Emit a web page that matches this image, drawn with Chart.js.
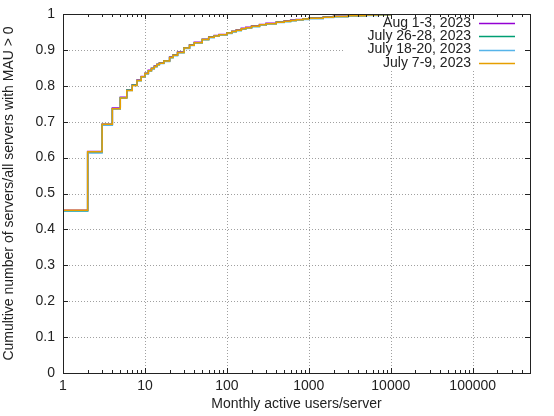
<!DOCTYPE html>
<html lang="en">
<head>
<meta charset="UTF-8">
<title>Monthly active users CDF</title>
<script src="https://cdn.jsdelivr.net/npm/chart.js"></script>
<style>
  html, body { margin: 0; padding: 0; background: #fff; }
  #wrap { width: 554px; height: 416px; }
</style>
</head>
<body>
<div id="wrap"><canvas id="cdf" width="554" height="416"></canvas></div>
<script>
// x values (monthly active users/server) shared by all series
const users = [1, 2, 3, 4, 5, 6, 7, 8, 9, 10, 11, 12, 13, 14, 15, 17, 20, 22, 25, 30,
  35, 40, 50, 60, 70, 80, 100, 115, 130, 150, 170, 200, 250, 300, 400, 500, 600, 700,
  850, 1000, 1500, 2000, 3000, 5000, 7000, 10000, 13000];

const labels = ['Aug 1-3, 2023', 'July 26-28, 2023', 'July 18-20, 2023', 'July 7-9, 2023'];
const colors = ['#9400d3', '#009e73', '#56b4e9', '#e69f00'];

const aug1 = [0.453, 0.617, 0.693, 0.738, 0.768, 0.789, 0.803, 0.816, 0.826, 0.835,
  0.843, 0.849, 0.855, 0.860, 0.864, 0.870, 0.880, 0.886, 0.894, 0.906, 0.914, 0.921,
  0.930, 0.936, 0.940, 0.943, 0.948, 0.952, 0.956, 0.960, 0.963, 0.967, 0.971, 0.974,
  0.978, 0.981, 0.983, 0.985, 0.987, 0.989, 0.992, 0.994, 0.996, 0.998, 1.0];
const jul26 = [0.451, 0.615, 0.692, 0.736, 0.767, 0.788, 0.802, 0.815, 0.825, 0.834,
  0.842, 0.848, 0.854, 0.859, 0.863, 0.869, 0.879, 0.885, 0.893, 0.905, 0.913, 0.920,
  0.929, 0.935, 0.939, 0.942, 0.947, 0.951, 0.954, 0.958, 0.962, 0.965, 0.969, 0.973,
  0.977, 0.979, 0.982, 0.984, 0.986, 0.988, 0.991, 0.993, 0.995, 0.997, 0.998, 1.0];
const jul18 = [0.452, 0.613, 0.690, 0.735, 0.766, 0.787, 0.801, 0.814, 0.824, 0.833,
  0.841, 0.847, 0.853, 0.858, 0.862, 0.868, 0.878, 0.884, 0.892, 0.904, 0.912, 0.919,
  0.928, 0.934, 0.938, 0.941, 0.946, 0.950, 0.954, 0.958, 0.961, 0.965, 0.969, 0.972,
  0.976, 0.979, 0.981, 0.983, 0.985, 0.987, 0.990, 0.992, 0.994, 0.996, 0.997, 0.999, 1.0];
const jul7 = [0.453, 0.616, 0.693, 0.736, 0.766, 0.787, 0.801, 0.815, 0.825, 0.834,
  0.842, 0.848, 0.854, 0.859, 0.863, 0.869, 0.879, 0.885, 0.893, 0.905, 0.913, 0.920,
  0.929, 0.935, 0.939, 0.942, 0.947, 0.951, 0.955, 0.959, 0.962, 0.966, 0.970, 0.973,
  0.977, 0.980, 0.982, 0.984, 0.986, 0.988, 0.991, 0.993, 0.995, 0.997, 0.998, 1.0];

const xTicks = [1, 10, 100, 1000, 10000, 100000];
const yTicks = [0, 0.1, 0.2, 0.3, 0.4, 0.5, 0.6, 0.7, 0.8, 0.9, 1];

const FONT = 'Liberation Sans, Arial, sans-serif';

function pts(ys) {
  return ys.map((y, i) => ({ x: users[i], y: y }));
}

// grid, white key box (behind lines), then border, tics and key text (in front)
const gnuplotFrame = {
  id: 'gnuplotFrame',
  beforeDatasetsDraw(chart) {
    const { ctx, chartArea: a, scales: { x, y } } = chart;
    ctx.save();
    ctx.strokeStyle = '#a0a0a0';
    ctx.lineWidth = 1;
    ctx.setLineDash([1, 2]);
    ctx.beginPath();
    xTicks.forEach(v => {
      const px = Math.round(x.getPixelForValue(v)) + 0.5;
      ctx.moveTo(px, a.top); ctx.lineTo(px, a.bottom);
    });
    yTicks.forEach(v => {
      const py = Math.round(y.getPixelForValue(v)) + 0.5;
      ctx.moveTo(a.left, py); ctx.lineTo(a.right, py);
    });
    ctx.stroke();
    ctx.setLineDash([]);
    ctx.fillStyle = '#fff';
    ctx.fillRect(345, 16, a.right - 346, 53);
    ctx.restore();
  },
  afterDatasetsDraw(chart) {
    const { ctx, chartArea: a, scales: { x, y } } = chart;
    ctx.save();
    ctx.strokeStyle = '#222';
    ctx.lineWidth = 1;
    ctx.beginPath();
    // major + minor x tics, mirrored top and bottom
    for (let d = 1; d <= 100000; d *= 10) {
      for (let m = 1; m <= 9; m++) {
        const v = d * m;
        if (v > x.max) break;
        const px = Math.round(x.getPixelForValue(v)) + 0.5;
        const len = m === 1 ? 5 : 3;
        ctx.moveTo(px, a.bottom); ctx.lineTo(px, a.bottom - len);
        ctx.moveTo(px, a.top); ctx.lineTo(px, a.top + len);
      }
    }
    yTicks.forEach(v => {
      const py = Math.round(y.getPixelForValue(v)) + 0.5;
      ctx.moveTo(a.left, py); ctx.lineTo(a.left + 5, py);
      ctx.moveTo(a.right, py); ctx.lineTo(a.right - 5, py);
    });
    ctx.stroke();
    ctx.strokeRect(Math.round(a.left) + 0.5, Math.round(a.top) + 0.5,
      Math.round(a.right - a.left), Math.round(a.bottom - a.top));

    // key
    ctx.font = '14px ' + FONT;
    ctx.textAlign = 'right';
    ctx.textBaseline = 'middle';
    labels.forEach((t, i) => {
      const ry = 23 + i * 13.3;
      ctx.fillStyle = '#222';
      ctx.fillText(t, 471, ry);
      ctx.strokeStyle = colors[i];
      ctx.lineWidth = 1.5;
      ctx.beginPath();
      ctx.moveTo(479, Math.round(ry) + 0.5);
      ctx.lineTo(515, Math.round(ry) + 0.5);
      ctx.stroke();
    });
    ctx.restore();
  }
};

const series = [aug1, jul26, jul18, jul7];

new Chart(document.getElementById('cdf'), {
  type: 'line',
  data: {
    datasets: series.map((ys, i) => ({
      label: labels[i],
      data: pts(ys),
      borderColor: colors[i],
      borderWidth: 1.5,
      pointRadius: 0,
      stepped: true,
      fill: false,
      order: 3 - i   // later series drawn on top, like gnuplot
    }))
  },
  options: {
    responsive: false,
    devicePixelRatio: 1,
    animation: false,
    layout: { padding: { left: 0, right: 24, top: 14, bottom: 0 } },
    plugins: { legend: { display: false }, tooltip: { enabled: false } },
    scales: {
      x: {
        type: 'logarithmic',
        min: 1,
        max: 500000,
        afterBuildTicks: s => { s.ticks = xTicks.map(v => ({ value: v })); },
        afterFit: s => { s.height = 43; },
        grid: { display: false, drawTicks: false },
        border: { display: false },
        ticks: {
          color: '#222',
          font: { family: FONT, size: 14 },
          padding: 5,
          maxRotation: 0,
          autoSkip: false,
          callback: v => String(v)
        },
        title: {
          display: true,
          text: 'Monthly active users/server',
          color: '#222',
          font: { family: FONT, size: 14 },
          padding: { top: 0, bottom: 3 }
        }
      },
      y: {
        min: 0,
        max: 1,
        afterBuildTicks: s => { s.ticks = yTicks.map(v => ({ value: v })); },
        afterFit: s => { s.width = 63; s.paddingTop = 0; s.paddingBottom = 0; },
        grid: { display: false, drawTicks: false },
        border: { display: false },
        ticks: {
          color: '#222',
          font: { family: FONT, size: 14 },
          padding: 8,
          callback: v => String(Math.round(v * 10) / 10)
        },
        title: {
          display: true,
          text: 'Cumultive number of servers/all servers with MAU > 0',
          color: '#222',
          font: { family: FONT, size: 14 },
          padding: { top: 1, bottom: 0 }
        }
      }
    }
  },
  plugins: [gnuplotFrame]
});
</script>
</body>
</html>
